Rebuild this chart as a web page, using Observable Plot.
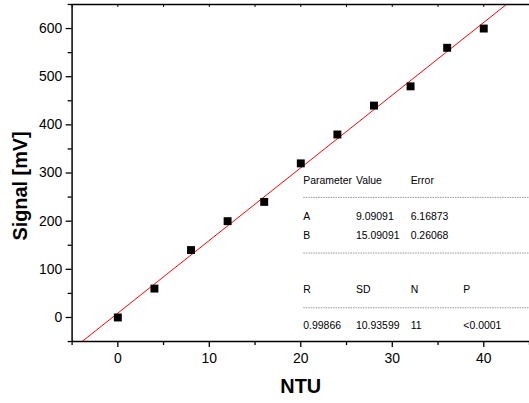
<!DOCTYPE html>
<html>
<head>
<meta charset="utf-8">
<script src="https://cdn.jsdelivr.net/npm/d3@7"></script>
<script src="https://cdn.jsdelivr.net/npm/@observablehq/plot@0.6"></script>
<style>
  html, body { margin: 0; padding: 0; background: #fff; overflow: hidden; }
  #chart { position: relative; width: 529px; height: 403px; overflow: hidden; }
</style>
</head>
<body>
<div id="chart"></div>
<script>
// Data
const ntu = [0, 4, 8, 12, 16, 20, 24, 28, 32, 36, 40];
const signal = [0, 60, 140, 200, 240, 320, 380, 440, 480, 560, 600];
// Fit parameters (linear fit y = A + B x)
const fitA = 9.09091;
const fitB = 15.09091;
const fitXRange = [-5, 45];
// Tick labels
const xMajor = [0, 10, 20, 30, 40];
const xMinor = [-5, 5, 15, 25, 35, 45];
const yMajor = [0, 100, 200, 300, 400, 500, 600];
const yMinor = [-50, 50, 150, 250, 350, 450, 550, 650];
// Stats table
const tableHeader = ["Parameter", "Value", "Error"];
const tableParams = [["A", "9.09091", "6.16873"], ["B", "15.09091", "0.26068"]];
const tableStatsHeader = ["R", "SD", "N", "P"];
const tableStats = ["0.99866", "10.93599", "11", "<0.0001"];

const points = ntu.map((x, i) => ({x, y: signal[i]}));
const fitLine = fitXRange.map(x => ({x, y: fitA + fitB * x}));

const font = "'Liberation Sans', Arial, sans-serif";

const plot = Plot.plot({
  width: 532,
  height: 403,
  marginLeft: 72,
  marginRight: 0,
  marginTop: 4,
  marginBottom: 60,
  style: {fontFamily: font, fontSize: "14px", color: "#000", background: "#fff"},
  x: {domain: [-5, 45]},
  y: {domain: [-50, 650]},
  marks: [
    Plot.line(fitLine, {x: "x", y: "y", stroke: "#ff0000", strokeWidth: 1, clip: true}),
    Plot.dot(points, {x: "x", y: "y", symbol: "square", r: 4.5, fill: "#000", stroke: "none"}),
    Plot.axisY({ticks: yMajor, tickSize: 6, tickPadding: 4, label: null, fontSize: 14, strokeWidth: 1.3}),
    Plot.axisY({ticks: yMinor, tickSize: 4, text: null, label: null, strokeWidth: 1.3}),
    Plot.axisX({ticks: xMajor, tickSize: 6, tickPadding: 6, label: null, fontSize: 14, strokeWidth: 1.3}),
    Plot.axisX({ticks: xMinor, tickSize: 4, text: null, label: null, strokeWidth: 1.3}),
    Plot.tickX(xMajor.concat(xMinor), {x: d => d, insetBottom: 336, stroke: "#000", strokeWidth: 1}),
    Plot.ruleX([-5], {stroke: "#000", strokeWidth: 1.5}),
    Plot.ruleY([-50], {stroke: "#000", strokeWidth: 1.5}),
    Plot.ruleY([650], {stroke: "#000", strokeWidth: 1.5}),
    Plot.text(["NTU"], {frameAnchor: "bottom", textAnchor: "middle", lineAnchor: "middle", dy: 45, fontSize: 20, fontWeight: "bold"}),
    Plot.text(["Signal [mV]"], {frameAnchor: "left", textAnchor: "middle", lineAnchor: "middle", dx: -52, dy: 13, rotate: -90, fontSize: 20, fontWeight: "bold"})
  ]
});

document.getElementById("chart").appendChild(plot);

// Stats table overlay
const svg = d3.select(plot);
const g = svg.append("g").attr("font-family", font).attr("font-size", "10.5px")
  .attr("fill", "#000").attr("text-anchor", "start");
const cols = [305, 358, 413, 466];
const dashed = [198, 254, 309];
function row(vals, y) {
  vals.forEach((v, i) => g.append("text").attr("x", cols[i]).attr("y", y).attr("text-anchor", "start").text(v));
}
row(tableHeader, 185);
row(tableParams[0], 221);
row(tableParams[1], 240);
row(tableStatsHeader, 295);
row(tableStats, 331);
dashed.forEach(y => g.append("line").attr("x1", 305).attr("x2", 532).attr("y1", y + 0.5).attr("y2", y + 0.5)
  .attr("stroke", "#666").attr("stroke-width", 0.7).attr("stroke-dasharray", "1.5,1"));
</script>
</body>
</html>
